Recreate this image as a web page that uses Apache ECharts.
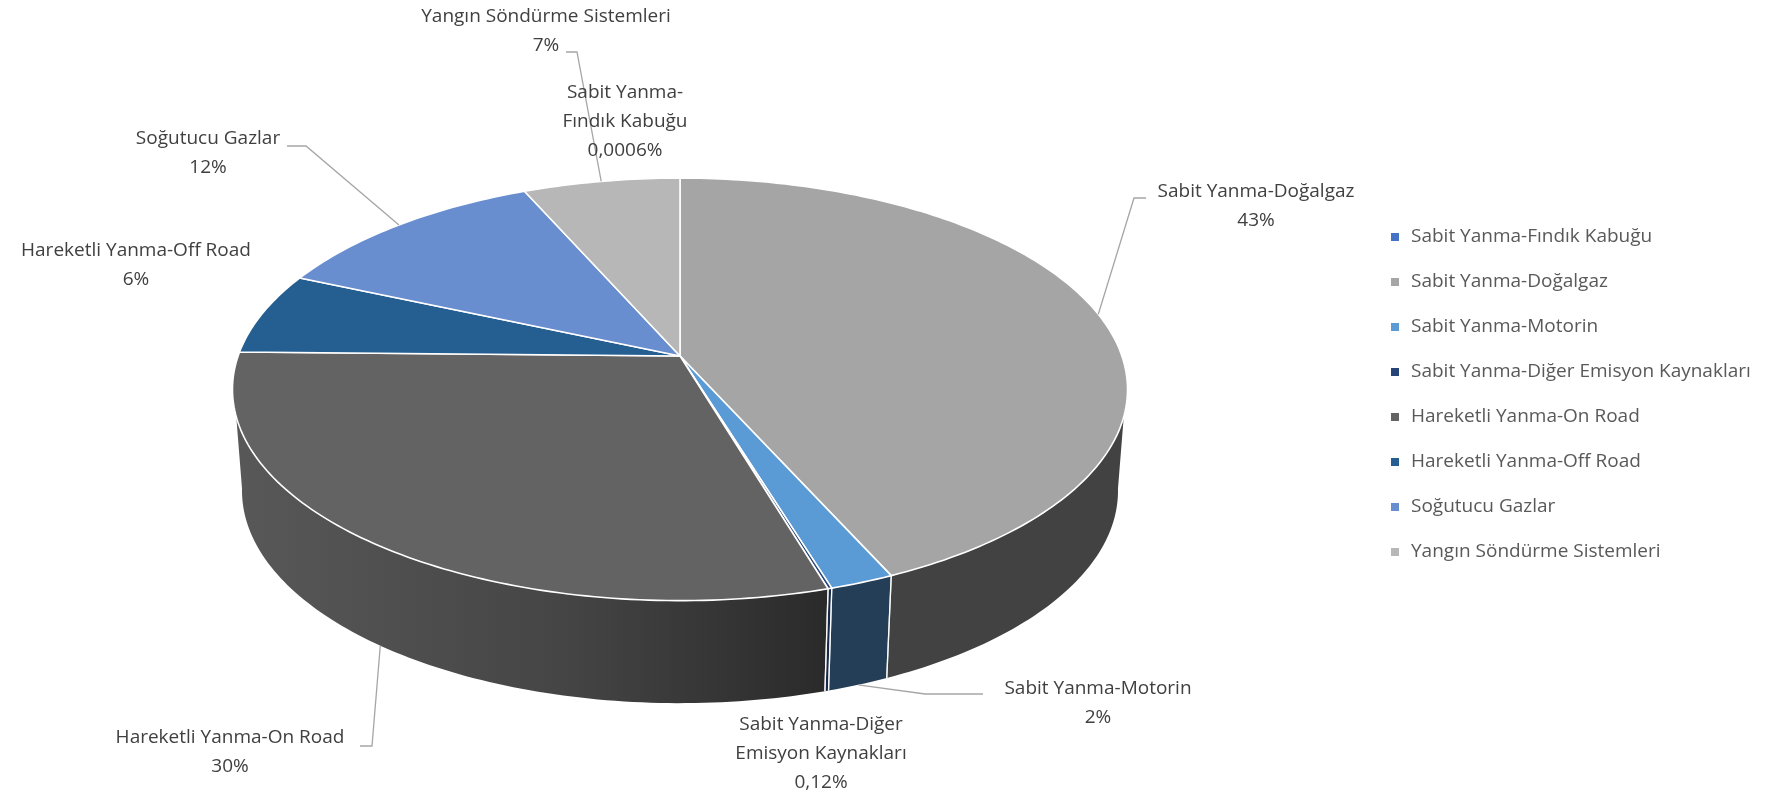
<!DOCTYPE html>
<html>
<head>
<meta charset="utf-8">
<title>Emisyon Dağılımı</title>
<style>html,body{margin:0;padding:0;background:#fff}#chart{width:1788px;height:798px}</style>
<script src="https://cdn.jsdelivr.net/npm/echarts@6/dist/echarts.min.js"></script>
</head>
<body>
<div id="chart"></div>
<script>
// ---- data ----
const categories = [
  'Sabit Yanma-Fındık Kabuğu',
  'Sabit Yanma-Doğalgaz',
  'Sabit Yanma-Motorin',
  'Sabit Yanma-Diğer Emisyon Kaynakları',
  'Hareketli Yanma-On Road',
  'Hareketli Yanma-Off Road',
  'Soğutucu Gazlar',
  'Yangın Söndürme Sistemleri'
];
const values = [0.0006, 43.3, 2.0, 0.12, 29.9, 6.3, 11.8, 6.6];
const valueLabels = ['0,0006%', '43%', '2%', '0,12%', '30%', '6%', '12%', '7%'];
const labelLines = [
  ['Sabit Yanma-', 'Fındık Kabuğu'],
  ['Sabit Yanma-Doğalgaz'],
  ['Sabit Yanma-Motorin'],
  ['Sabit Yanma-Diğer', 'Emisyon Kaynakları'],
  ['Hareketli Yanma-On Road'],
  ['Hareketli Yanma-Off Road'],
  ['Soğutucu Gazlar'],
  ['Yangın Söndürme Sistemleri']
];

// ---- styles ----
const topColors = ['#4472c4', '#a5a5a5', '#5b9bd5', '#264478', '#636363', '#255e91', '#698ed0', '#b7b7b7'];
const FONT = '"Open Sans", "Noto Sans", sans-serif';
const FONT_SIZE = 19;
const wallFills = [
  '#2f4f88',
  '#424242',
  '#233e56',
  '#17294a',
  { type: 'linear', x: 236, y: 0, x2: 830, y2: 0, global: true,
    colorStops: [{ offset: 0, color: '#585858' }, { offset: 0.55, color: '#454545' }, { offset: 1, color: '#2a2a2a' }] },
  '#163955', '#3f5f99', '#6e6e6e'
];

// ---- layout: perspective model of the two pie rims, and label placement ----
const topRim = { x: 680, y: 356, a: 441.9, b: 206, k: 0.158 };
const bottomRim = { x: 680, y: 457.3, a: 432.5, b: 207, k: 0.158 };
const wallTopRange = [106.4, 253.6];
const wallBottomRange = [98.5, 261.5];
const labelCenters = [[625, 93], [1256, 192], [1098, 689], [821, 725], [230, 738], [136, 251], [208, 139], [546, 17]];
const LINE_H = 29;
// leader elbows; first point of every leader comes from the slice's mid angle
const leaders = [
  null,
  { rim: topRim, elbow: [[1134, 198], [1146, 198]] },
  { rim: bottomRim, elbow: [[925, 694], [983, 694]] },
  null,
  { rim: bottomRim, elbow: [[372, 746], [360, 746]] },
  null,
  { rim: topRim, elbow: [[306, 146], [287, 146]] },
  { rim: topRim, elbow: [[577, 52], [566, 52]] }
];

function project(rim, deg) {
  const t = deg * Math.PI / 180, s = Math.sin(t), c = Math.cos(t), w = 1 + rim.k * c;
  return [rim.x + rim.a * s / w, rim.y - rim.b * c / w];
}
function arc(rim, from, to) {
  const pts = [], n = Math.max(1, Math.ceil(Math.abs(to - from)));
  for (let i = 0; i <= n; i++) pts.push(project(rim, from + (to - from) * i / n));
  return pts;
}

const total = values.reduce((a, b) => a + b, 0);
let running = 0;
const spans = values.map(v => { const s = running; running += v; return [s / total * 360, running / total * 360]; });

function renderSlice(index) {
  return function (params, api) {
    const from = api.value(0), to = api.value(1);
    const children = [];
    // side wall
    const t0 = Math.max(from, wallTopRange[0]), t1 = Math.min(to, wallTopRange[1]);
    const b0 = Math.max(from, wallBottomRange[0]), b1 = Math.min(to, wallBottomRange[1]);
    if (b1 > b0) {
      const upper = t1 > t0 ? arc(topRim, t0, t1) : [];
      const lower = arc(bottomRim, b1, b0);
      children.push({ type: 'polygon', z2: 1, shape: { points: upper.concat(lower) },
        style: { fill: wallFills[index], stroke: null } });
      [from, to].forEach(a => {
        if (a > wallTopRange[0] && a < wallTopRange[1]) {
          children.push({ type: 'polyline', z2: 2, shape: { points: [project(topRim, a), project(bottomRim, a)] },
            style: { fill: null, stroke: '#ffffff', lineWidth: 1.3, opacity: 0.85 } });
        }
      });
    }
    // top face
    children.push({ type: 'polygon', z2: 3,
      shape: { points: [[topRim.x, topRim.y]].concat(arc(topRim, from, to)) },
      style: { fill: topColors[index], stroke: '#ffffff', lineWidth: 1.6, lineJoin: 'round' } });
    // leader line
    const ld = leaders[index];
    if (ld) {
      const start = project(ld.rim, (from + to) / 2);
      children.push({ type: 'polyline', z2: 4, shape: { points: [start].concat(ld.elbow) },
        style: { fill: null, stroke: '#a6a6a6', lineWidth: 1.3 } });
    }
    // label
    const c = labelCenters[index];
    children.push({ type: 'text', z2: 5, x: c[0], y: c[1] - LINE_H / 2,
      style: { text: labelLines[index].concat(valueLabels[index]).join('\n'),
        font: FONT_SIZE + 'px ' + FONT, fill: '#404040', align: 'center', verticalAlign: 'top', lineHeight: LINE_H } });
    return { type: 'group', children };
  };
}

const chart = echarts.init(document.getElementById('chart'), null, { renderer: 'canvas', width: 1788, height: 798 });
chart.setOption({
  animation: false,
  backgroundColor: '#ffffff',
  tooltip: { show: false },
  legend: {
    orient: 'vertical', left: 1391, top: 226,
    selectedMode: false, icon: 'rect', itemWidth: 8, itemHeight: 8, itemGap: 23, padding: 0,
    textStyle: { fontFamily: FONT, fontSize: FONT_SIZE, color: '#595959', lineHeight: 22, padding: [0, 0, 0, 7] },
    data: categories.map((name, i) => ({ name, itemStyle: { color: topColors[i] } }))
  },
  series: categories.map((name, i) => ({
    type: 'custom', name, coordinateSystem: 'none', clip: false, silent: true,
    itemStyle: { color: topColors[i] },
    renderItem: renderSlice(i),
    data: [{ name, value: spans[i] }]
  }))
});
</script>
</body>
</html>
